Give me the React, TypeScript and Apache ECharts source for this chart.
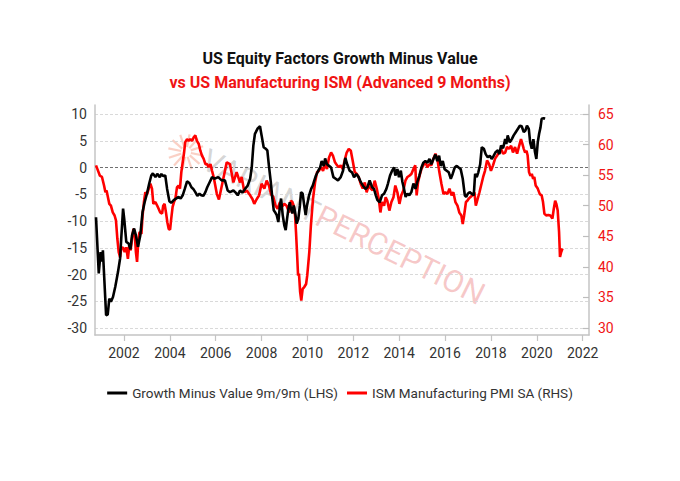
import { useEffect, useRef } from 'react';
import * as echarts from 'echarts';

// Growth Minus Value 9m/9m (LHS) — decimal years and values
const gmvDates = [
  2000.78, 2000.9, 2000.98, 2001.04, 2001.08, 2001.14, 2001.22, 2001.29, 2001.36, 2001.43,
  2001.52, 2001.62, 2001.74, 2001.83, 2001.88, 2001.96, 2002.01, 2002.1, 2002.2, 2002.28,
  2002.35, 2002.44, 2002.52, 2002.61, 2002.71, 2002.81, 2002.9, 2003.0, 2003.1, 2003.19,
  2003.26, 2003.37, 2003.45, 2003.56, 2003.63, 2003.7, 2003.8, 2003.88, 2003.98, 2004.06,
  2004.17, 2004.27, 2004.38, 2004.47, 2004.56, 2004.65, 2004.75, 2004.85, 2004.94, 2005.02,
  2005.11, 2005.2, 2005.29, 2005.37, 2005.46, 2005.55, 2005.63, 2005.74, 2005.84, 2005.94,
  2006.11, 2006.26, 2006.4, 2006.52, 2006.62, 2006.77, 2006.87, 2006.96, 2007.06, 2007.16,
  2007.28, 2007.39, 2007.5, 2007.57, 2007.64, 2007.71, 2007.83, 2007.93, 2008.0, 2008.09,
  2008.18, 2008.25, 2008.32, 2008.4, 2008.47, 2008.53, 2008.58, 2008.66, 2008.73, 2008.8,
  2008.85, 2008.92, 2008.99, 2009.05, 2009.11, 2009.17, 2009.23, 2009.28, 2009.34, 2009.4,
  2009.46, 2009.53, 2009.6, 2009.67, 2009.72, 2009.79, 2009.86, 2009.92, 2009.98, 2010.07,
  2010.16, 2010.23, 2010.3, 2010.37, 2010.47, 2010.55, 2010.62, 2010.71, 2010.77, 2010.85,
  2010.94, 2011.03, 2011.13, 2011.23, 2011.33, 2011.45, 2011.55, 2011.65, 2011.74, 2011.84,
  2011.94, 2012.03, 2012.13, 2012.23, 2012.32, 2012.42, 2012.53, 2012.61, 2012.71, 2012.82,
  2012.9, 2012.98, 2013.05, 2013.15, 2013.25, 2013.34, 2013.44, 2013.51, 2013.6, 2013.69,
  2013.78, 2013.83, 2013.92, 2013.99, 2014.07, 2014.14, 2014.21, 2014.28, 2014.36, 2014.44,
  2014.53, 2014.62, 2014.71, 2014.79, 2014.88, 2014.97, 2015.05, 2015.14, 2015.23, 2015.32,
  2015.4, 2015.49, 2015.58, 2015.66, 2015.74, 2015.81, 2015.9, 2015.98, 2016.07, 2016.16,
  2016.25, 2016.33, 2016.42, 2016.51, 2016.59, 2016.68, 2016.77, 2016.86, 2016.92, 2016.99,
  2017.07, 2017.16, 2017.25, 2017.31, 2017.38, 2017.45, 2017.53, 2017.6, 2017.69, 2017.77,
  2017.86, 2017.95, 2018.03, 2018.12, 2018.21, 2018.3, 2018.37, 2018.44, 2018.53, 2018.62,
  2018.67, 2018.73, 2018.82, 2018.91, 2018.99, 2019.08, 2019.17, 2019.26, 2019.34, 2019.43,
  2019.5, 2019.57, 2019.65, 2019.71, 2019.78, 2019.85, 2019.92, 2019.98, 2020.04, 2020.1,
  2020.16, 2020.21, 2020.3, 2020.36,
];
const gmvValues = [
  -9.3, -19.8, -15.8, -17.6, -15.5, -20.7, -27.6, -27.5, -24.5, -25.1,
  -24.2, -22.3, -19.5, -17.0, -13.3, -7.7, -9.6, -13.9, -14.2, -15.3,
  -12.7, -11.4, -12.7, -14.8, -12.7, -8.3, -6.5, -4.9, -3.0, -1.5,
  -1.1, -1.8, -1.2, -1.8, -1.2, -1.6, -1.5, -4.0, -6.3, -6.6,
  -6.1, -5.8, -5.5, -5.8, -5.2, -4.0, -2.6, -2.9, -3.7, -4.0,
  -4.6, -5.3, -4.9, -5.2, -5.3, -4.6, -3.7, -2.7, -1.8, -2.1,
  -1.8, -2.4, -2.4, -4.3, -4.6, -4.3, -4.7, -5.2, -4.3, -4.7,
  -4.0, -3.4, -2.1, 0.0, 4.1, 6.3, 7.3, 7.7, 6.0, 3.8,
  3.5, 3.2, 0.3, -2.7, -5.8, -8.0, -8.3, -8.9, -10.2, -7.1,
  -5.8, -8.9, -10.8, -11.7, -9.6, -7.7, -6.5, -7.7, -8.6, -7.1,
  -8.3, -10.5, -9.6, -7.1, -4.6, -4.9, -7.1, -8.9, -7.1, -5.2,
  -4.0, -3.4, -2.4, -1.5, -0.6, 0.0, 1.2, 0.3, 1.7, 0.6,
  0.3, 0.0, -1.8, -2.1, -2.4, -1.8, -0.6, 1.8, 0.5, -0.6,
  -0.9, -1.8, -1.2, -1.8, -2.7, -3.4, -4.0, -3.7, -2.4, -3.7,
  -4.0, -5.2, -6.1, -6.5, -5.2, -4.9, -4.0, -3.0, -1.5, -0.6,
  0.0, -1.5, -0.3, -1.8, -0.6, -2.7, -4.0, -5.5, -4.9, -5.2,
  -4.6, -3.0, -4.0, -2.7, -1.5, 0.0, 0.9, 1.2, 0.9, 1.6,
  0.6, 1.6, 2.4, 1.2, 2.2, 0.3, 1.2, -0.3, -0.6, -0.9,
  -2.1, -1.2, 0.0, 0.3, 0.0, -0.3, -2.1, -5.2, -5.5, -4.9,
  -4.6, -4.9, -5.2, -1.2, -1.8, -0.9, 0.6, 3.8, 3.5, 2.5,
  1.9, 2.2, 1.6, 2.2, 2.9, 3.2, 2.5, 4.1, 3.6, 5.3,
  4.4, 6.0, 4.7, 5.3, 6.0, 6.6, 7.2, 7.8, 7.7, 6.6,
  6.9, 7.8, 7.2, 4.7, 3.5, 5.3, 2.9, 1.6, 4.7, 6.3,
  7.5, 9.1, 9.2, 9.1,
];

// ISM Manufacturing PMI SA (RHS), advanced 9 months — decimal years and values
const ismDates = [
  2000.78, 2000.87, 2000.95, 2001.04, 2001.13, 2001.19, 2001.24, 2001.3, 2001.36, 2001.43,
  2001.51, 2001.59, 2001.65, 2001.71, 2001.77, 2001.83, 2001.88, 2001.96, 2002.03, 2002.1,
  2002.17, 2002.23, 2002.29, 2002.35, 2002.41, 2002.46, 2002.52, 2002.57, 2002.63, 2002.68,
  2002.76, 2002.81, 2002.87, 2002.93, 2003.0, 2003.08, 2003.15, 2003.22, 2003.28, 2003.37,
  2003.45, 2003.51, 2003.58, 2003.66, 2003.71, 2003.77, 2003.83, 2003.89, 2003.95, 2004.01,
  2004.06, 2004.12, 2004.18, 2004.24, 2004.31, 2004.38, 2004.44, 2004.5, 2004.56, 2004.62,
  2004.67, 2004.75, 2004.82, 2004.89, 2004.97, 2005.04, 2005.11, 2005.18, 2005.26, 2005.33,
  2005.4, 2005.47, 2005.55, 2005.62, 2005.69, 2005.77, 2005.84, 2005.91, 2005.98, 2006.05,
  2006.14, 2006.48, 2006.62, 2006.77, 2006.91, 2007.06, 2007.13, 2007.25, 2007.35, 2007.5,
  2007.6, 2007.68, 2007.79, 2007.89, 2008.0, 2008.12, 2008.22, 2008.32, 2008.41, 2008.51,
  2008.61, 2008.7, 2008.8, 2008.88, 2008.99, 2009.09, 2009.2, 2009.28, 2009.34, 2009.4,
  2009.46, 2009.5, 2009.55, 2009.59, 2009.63, 2009.68, 2009.73, 2009.79, 2009.86, 2009.94,
  2009.99, 2010.08, 2010.15, 2010.24, 2010.33, 2010.42, 2010.5, 2010.59, 2010.68, 2010.76,
  2010.85, 2010.94, 2011.03, 2011.11, 2011.2, 2011.29, 2011.37, 2011.45, 2011.54, 2011.62,
  2011.71, 2011.8, 2011.89, 2011.97, 2012.06, 2012.15, 2012.23, 2012.32, 2012.41, 2012.5,
  2012.58, 2012.67, 2012.76, 2012.84, 2012.93, 2013.02, 2013.11, 2013.18, 2013.25, 2013.34,
  2013.41, 2013.48, 2013.57, 2013.66, 2013.75, 2013.83, 2013.92, 2014.01, 2014.09, 2014.18,
  2014.27, 2014.36, 2014.44, 2014.53, 2014.62, 2014.7, 2014.76, 2014.82, 2014.89, 2014.97,
  2015.05, 2015.14, 2015.23, 2015.32, 2015.4, 2015.49, 2015.58, 2015.66, 2015.75, 2015.84,
  2015.93, 2016.01, 2016.1, 2016.19, 2016.28, 2016.36, 2016.45, 2016.54, 2016.62, 2016.71,
  2016.77, 2016.83, 2016.91, 2016.97, 2017.02, 2017.1, 2017.19, 2017.28, 2017.34, 2017.42,
  2017.5, 2017.57, 2017.66, 2017.74, 2017.83, 2017.92, 2018.0, 2018.09, 2018.18, 2018.27,
  2018.35, 2018.44, 2018.53, 2018.62, 2018.7, 2018.79, 2018.88, 2018.96, 2019.05, 2019.14,
  2019.23, 2019.31, 2019.37, 2019.43, 2019.49, 2019.55, 2019.6, 2019.66, 2019.72, 2019.78,
  2019.84, 2019.89, 2019.95, 2020.04, 2020.13, 2020.21, 2020.27, 2020.33, 2020.42, 2020.5,
  2020.59, 2020.68, 2020.74, 2020.8, 2020.85, 2020.91, 2020.97, 2021.01, 2021.06, 2021.12,
];
const ismValues = [
  56.6, 55.7, 54.9, 54.7, 53.3, 52.2, 52.5, 51.4, 50.3, 50.0,
  48.9, 48.4, 47.6, 44.6, 42.4, 41.6, 43.0, 43.2, 42.4, 43.2,
  41.3, 43.5, 42.7, 44.6, 46.2, 45.9, 42.4, 40.8, 44.6, 45.7,
  45.4, 48.4, 50.6, 52.2, 51.8, 52.8, 53.6, 52.8, 50.3, 50.6,
  50.0, 49.5, 48.9, 48.7, 50.0, 50.3, 48.9, 47.3, 46.2, 46.1,
  47.9, 49.8, 50.6, 51.1, 53.0, 53.3, 52.8, 55.5, 57.1, 58.7,
  60.4, 60.9, 60.6, 60.9, 60.6, 61.2, 61.5, 60.6, 60.1, 59.0,
  58.2, 57.7, 56.8, 56.8, 56.3, 56.8, 55.7, 54.7, 53.3, 51.9,
  51.0, 57.1, 56.8, 53.8, 55.5, 53.8, 54.7, 52.2, 52.5, 51.7,
  51.1, 50.3, 51.1, 51.7, 53.6, 52.8, 54.1, 53.3, 51.9, 51.4,
  50.0, 49.5, 50.6, 49.8, 50.3, 50.0, 48.9, 50.8, 50.6, 50.0,
  48.4, 45.7, 41.9, 38.6, 38.9, 35.9, 34.5, 36.4, 36.7, 37.2,
  38.6, 42.4, 46.8, 51.1, 53.8, 55.5, 55.7, 56.3, 55.7, 56.8,
  56.0, 57.9, 58.7, 58.2, 57.1, 56.6, 56.3, 56.6, 56.0, 57.4,
  58.7, 59.3, 59.0, 57.4, 55.5, 55.2, 54.7, 53.6, 52.8, 53.8,
  52.2, 53.3, 52.8, 52.5, 54.1, 52.8, 51.1, 48.9, 50.6, 50.0,
  51.4, 50.8, 49.2, 50.6, 51.4, 53.3, 52.2, 50.3, 51.7, 52.5,
  54.1, 54.7, 54.9, 55.2, 56.0, 56.6, 51.7, 53.8, 54.9, 56.0,
  56.6, 57.1, 56.3, 56.8, 56.6, 57.7, 58.5, 57.7, 55.5, 53.6,
  51.9, 52.2, 51.9, 52.8, 51.7, 52.2, 50.6, 50.0, 48.9, 48.4,
  47.0, 48.4, 50.6, 50.8, 51.1, 51.4, 51.7, 52.2, 50.0, 51.1,
  52.2, 53.3, 54.7, 55.7, 57.4, 56.8, 55.7, 56.6, 57.7, 58.2,
  58.7, 59.3, 58.5, 58.7, 59.6, 59.3, 59.8, 58.7, 59.6, 58.5,
  59.8, 60.9, 60.1, 59.3, 58.7, 59.0, 58.2, 55.5, 54.9, 55.2,
  54.4, 54.7, 53.3, 52.8, 51.9, 51.7, 50.6, 48.7, 48.4, 48.5,
  48.4, 47.9, 49.5, 50.8, 50.3, 49.2, 45.7, 41.6, 42.4, 43.0,
];

const yearTicks = [2002, 2004, 2006, 2008, 2010, 2012, 2014, 2016, 2018, 2020, 2022];
const xMin = 2000.736;
const xMax = 2022.275;

const gmvName = 'Growth Minus Value 9m/9m (LHS)';
const ismName = 'ISM Manufacturing PMI SA (RHS)';
const title1 = 'US Equity Factors Growth Minus Value';
const title2 = 'vs US Manufacturing ISM (Advanced 9 Months)';

const FONT = 'Roboto, "Noto Sans", sans-serif';

export default function App() {
  const ref = useRef<HTMLDivElement>(null);

  useEffect(() => {
    if (!ref.current) return;
    const chart = echarts.init(ref.current, null, { renderer: 'svg' });

    const gmvData = gmvDates.map((d, i) => [d, gmvValues[i]]);
    const ismData = ismDates.map((d, i) => [d, ismValues[i]]);

    const gridColors = ['#d9d9d9', '#d9d9d9', '#d9d9d9', '#d9d9d9', '#d9d9d9', '#d9d9d9', '#707070', '#d9d9d9', '#d9d9d9'];

    const rays: any[] = [];
    for (let k = 0; k < 12; k++) {
      const a = (k * Math.PI) / 6 + 0.2;
      rays.push({
        type: 'line',
        shape: { x1: Math.cos(a) * 5, y1: Math.sin(a) * 5, x2: Math.cos(a) * 18, y2: Math.sin(a) * 18 },
        style: { stroke: 'rgba(240,120,90,0.35)', lineWidth: 2.2 },
      });
    }

    const option: any = {
      animation: false,
      backgroundColor: '#ffffff',
      textStyle: { fontFamily: FONT },
      title: [
        {
          text: title1,
          left: 'center',
          top: 45,
          textStyle: { fontFamily: FONT, fontSize: 16, fontWeight: 'bold', color: '#111111' },
        },
        {
          text: title2,
          left: 'center',
          top: 69,
          textStyle: { fontFamily: FONT, fontSize: 16, fontWeight: 'bold', color: '#f01414' },
        },
      ],
      legend: {
        data: [gmvName, ismName],
        left: 'center',
        top: 381,
        icon: 'rect',
        itemWidth: 20,
        itemHeight: 3,
        itemGap: 9,
        textStyle: { fontFamily: FONT, fontSize: 13.5, color: '#333333' },
      },
      graphic: [
        {
          type: 'group',
          x: 186,
          y: 152,
          children: rays,
        },
        {
          type: 'text',
          x: 204,
          y: 158,
          rotation: -0.46,
          style: {
            text: '{a|VARIANT}{b|PERCEPTION}',
            font: '31px Roboto',
            verticalAlign: 'middle',
            rich: {
              a: { fill: 'rgba(110,110,110,0.28)', color: 'rgba(110,110,110,0.28)', font: '31px Roboto' },
              b: { fill: 'rgba(225,60,60,0.28)', color: 'rgba(225,60,60,0.28)', font: '31px Roboto' },
            },
          },
        },
      ],
      grid: [
        { left: 95, right: 91, top: 114, bottom: 153, outerBoundsMode: 'none' },
        { left: 95, right: 91, top: 105, bottom: 146, outerBoundsMode: 'none' },
      ],
      xAxis: [
        { type: 'value', gridIndex: 0, min: xMin, max: xMax, show: false },
        {
          type: 'value',
          gridIndex: 1,
          min: xMin,
          max: xMax,
          axisLine: { show: true, onZero: false, lineStyle: { color: '#c4c4c4', width: 1.5 } },
          axisTick: { show: true, length: 6, customValues: yearTicks, lineStyle: { color: '#c4c4c4', width: 1.2 } },
          axisLabel: {
            show: true,
            customValues: yearTicks,
            margin: 11,
            fontFamily: FONT,
            fontSize: 14,
            color: '#333333',
            formatter: (v: number) => String(Math.round(v)),
          },
          splitLine: { show: false },
        },
      ],
      yAxis: [
        {
          type: 'value',
          gridIndex: 0,
          position: 'left',
          min: -30,
          max: 10,
          interval: 5,
          axisLine: { show: false },
          axisTick: { show: false },
          axisLabel: { margin: 8, fontFamily: FONT, fontSize: 14, color: '#333333' },
          splitLine: { show: true, lineStyle: { color: gridColors, type: [3, 2], width: 1 } },
        },
        {
          type: 'value',
          gridIndex: 0,
          position: 'right',
          min: 30,
          max: 65,
          interval: 5,
          axisLine: { show: false },
          axisTick: { show: true, inside: true, length: 6, lineStyle: { color: '#bdbdbd', width: 1.2 } },
          axisLabel: { margin: 9, fontFamily: FONT, fontSize: 14, color: '#f01414' },
          splitLine: { show: false },
        },
        {
          type: 'value',
          gridIndex: 1,
          position: 'left',
          min: 0,
          max: 1,
          axisLine: { show: true, lineStyle: { color: '#c4c4c4', width: 1.5 } },
          axisTick: { show: false },
          axisLabel: { show: false },
          splitLine: { show: false },
        },
        {
          type: 'value',
          gridIndex: 1,
          position: 'right',
          min: 0,
          max: 1,
          axisLine: { show: true, lineStyle: { color: '#c4c4c4', width: 1.5 } },
          axisTick: { show: false },
          axisLabel: { show: false },
          splitLine: { show: false },
        },
      ],
      series: [
        {
          name: gmvName,
          type: 'line',
          xAxisIndex: 0,
          yAxisIndex: 0,
          data: gmvData,
          showSymbol: false,
          symbol: 'none',
          z: 4,
          lineStyle: { color: '#000000', width: 2.6 },
          itemStyle: { color: '#000000' },
        },
        {
          name: ismName,
          type: 'line',
          xAxisIndex: 0,
          yAxisIndex: 1,
          data: ismData,
          showSymbol: false,
          symbol: 'none',
          z: 3,
          lineStyle: { color: '#ff0000', width: 2.6 },
          itemStyle: { color: '#ff0000' },
        },
      ],
    };

    chart.setOption(option);
    return () => chart.dispose();
  }, []);

  return <div ref={ref} style={{ position: 'fixed', left: 0, top: 0, width: 680, height: 481 }} />;
}
